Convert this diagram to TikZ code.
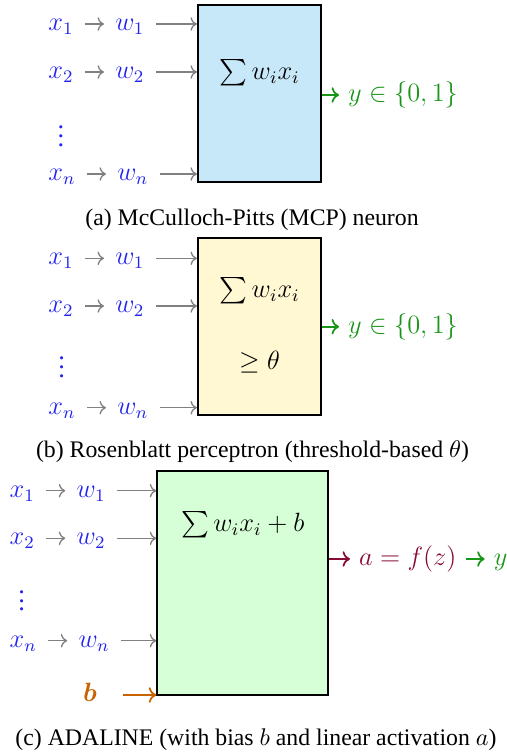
\documentclass[tikz,border=0pt]{standalone}
\usepackage{amsmath}
\usepackage{fontspec}
\setmainfont{Liberation Serif}
\usepackage{xcolor}
\usepackage{tikz}
\usetikzlibrary{arrows.meta, positioning}
\definecolor{NNBlue}{RGB}{35, 35, 240}
\definecolor{NNGray}{RGB}{128, 128, 128}
\definecolor{NNGreen}{RGB}{25, 150, 25}
\definecolor{NNWine}{RGB}{135, 10, 55}
\definecolor{NNOrange}{RGB}{200, 100, 0}
\definecolor{NNSky}{RGB}{199, 232, 248}
\definecolor{NNCream}{RGB}{255, 248, 210}
\definecolor{NNMint}{RGB}{215, 255, 215}
\newcommand{\pxu}{0.4545pt}

\begin{document}
\begin{tikzpicture}[x=\pxu, y=-\pxu, node distance=8.6pt,
    inp/.style={text=NNBlue, font=\large, inner xsep=5pt, inner ysep=1pt, text height=8pt, text depth=2pt},
    outp/.style={font=\large, inner xsep=4pt, inner ysep=1pt, text height=8pt, text depth=2pt},
    feed/.style={->, draw=NNGray, semithick},
    cell/.style={draw=black, line width=1pt, inner sep=0pt},
    dots/.style={text=NNBlue, font=\large, inner sep=0pt, text height=9.5pt, anchor=south},
    captext/.style={font=\fontsize{10.8}{13}\selectfont}]
  \useasboundingbox (0,0) rectangle (507,756);

  % (a) McCulloch-Pitts
  \node[cell, fill=NNSky, minimum width=123*\pxu, minimum height=177*\pxu] (boxA) at (259.5,93.5) {};
  \node[font=\large] (sumA) at (259.5,73) {$\sum w_i x_i$};
  \foreach \i/\y in {1/24, 2/72, n/174} {
    \node[inp, anchor=west] (xA\i) at (37,\y) {$x_\i$};
    \node[inp, right=of xA\i] (wA\i) {$w_\i$};
    \draw[feed] (xA\i) -- (wA\i);
    \draw[feed] (wA\i) -- (wA\i -| boxA.west);
  }
  \node[dots] (dotsA) at (61,147) {$\vdots$};
  \node[outp, text=NNGreen, anchor=west] (yA) at (339,95) {$y \in \{0,1\}$};
  \draw[->, NNGreen, thick] (boxA.east |- yA) -- (yA);
  \node[captext] (capA) at (252,220) {(a) McCulloch-Pitts (MCP) neuron};

  % (b) Rosenblatt
  \node[cell, fill=NNCream, minimum width=123*\pxu, minimum height=177.3*\pxu] (boxB) at (259.5,326.4) {};
  \node[font=\large] (sumB) at (259.5,291) {$\sum w_i x_i$};
  \node[font=\large] (thrB) at (259.5,362) {$\geq \theta$};
  \foreach \i/\y in {1/258.3, 2/306, n/407.7} {
    \node[inp, anchor=west] (xB\i) at (37,\y) {$x_\i$};
    \node[inp, right=of xB\i] (wB\i) {$w_\i$};
    \draw[feed] (xB\i) -- (wB\i);
    \draw[feed] (wB\i) -- (wB\i -| boxB.west);
  }
  \node[dots] (dotsB) at (61.7,378.3) {$\vdots$};
  \node[outp, text=NNGreen, anchor=west] (yB) at (339,326.7) {$y \in \{0,1\}$};
  \draw[->, NNGreen, thick] (boxB.east |- yB) -- (yB);
  \node[captext] (capB) at (252.5,451.7) {(b) Rosenblatt perceptron (threshold-based $\theta$)};

  % (c) ADALINE
  \node[cell, fill=NNMint, minimum width=171*\pxu, minimum height=224.3*\pxu] (boxC) at (242.8,582.9) {};
  \node[font=\large] (sumC) at (242.8,525) {$\sum w_i x_i + b$};
  \foreach \i/\y in {1/490.7, 2/538.3, n/640.7} {
    \node[inp, anchor=west] (xC\i) at (-1.7,\y) {$x_\i$};
    \node[inp, right=of xC\i] (wC\i) {$w_\i$};
    \draw[feed] (xC\i) -- (wC\i);
    \draw[feed] (wC\i) -- (wC\i -| boxC.west);
  }
  \node[dots] (dotsC) at (21.7,611.7) {$\vdots$};
  \node[inp, text=NNOrange] (bC) at (90,695) {$\boldsymbol{b}$};
  \draw[->, NNOrange, thick, shorten <=6.8pt] (bC) -- (bC -| boxC.west);
  \node[outp, text=NNWine, anchor=west] (aC) at (350,559) {$a = f(z)$};
  \draw[->, NNWine, thick] (boxC.east |- aC) -- (aC);
  \node[outp, text=NNGreen, right=of aC] (yC) {$y$};
  \draw[->, NNGreen, thick] (aC) -- (yC);
  \node[captext] (capC) at (256,740) {(c) ADALINE (with bias $b$ and linear activation $a$)};
\end{tikzpicture}
\end{document}
